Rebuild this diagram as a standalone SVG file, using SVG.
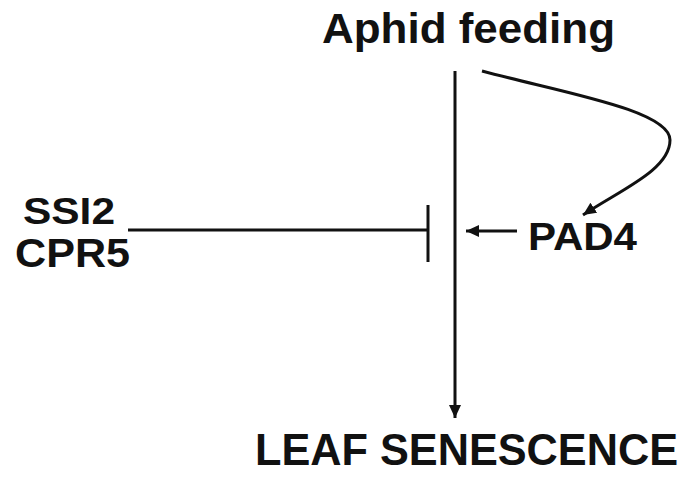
<svg xmlns="http://www.w3.org/2000/svg" width="688" height="477" viewBox="0 0 688 477">
<style>
text{font-family:"Liberation Sans",Arial,sans-serif;font-weight:bold;fill:#111}
.ln{stroke:#111;stroke-width:3;fill:none}
</style>
<defs>
<marker id="ah" markerUnits="userSpaceOnUse" markerWidth="14" markerHeight="12" refX="13" refY="6" orient="auto">
<path d="M0,0 L13,6 L0,12 z" fill="#111"/>
</marker>
</defs>
<rect width="688" height="477" fill="#fff"/>
<g id="aphid"><text x="322" y="43" font-size="43" textLength="293" lengthAdjust="spacingAndGlyphs">Aphid feeding</text></g>
<g id="leaf"><text x="255" y="465" font-size="44" textLength="423" lengthAdjust="spacingAndGlyphs">LEAF SENESCENCE</text></g>
<g id="ssi2"><text x="23" y="224" font-size="36" textLength="92" lengthAdjust="spacingAndGlyphs">SSI2</text></g>
<g id="cpr5"><text x="15" y="267" font-size="40" textLength="115" lengthAdjust="spacingAndGlyphs">CPR5</text></g>
<g id="pad4"><text x="528" y="250" font-size="38" textLength="109" lengthAdjust="spacingAndGlyphs">PAD4</text></g>
<g id="connectors">
<line class="ln" x1="455" y1="71" x2="455" y2="418" marker-end="url(#ah)"/>
<path class="ln" d="M482,71 C560,92 670,110 670,140 C670,170 620,190 583,215" marker-end="url(#ah)"/>
<line class="ln" x1="517" y1="231" x2="466" y2="231" marker-end="url(#ah)"/>
<line class="ln" x1="128" y1="230" x2="428" y2="230"/>
<line class="ln" x1="428" y1="205" x2="428" y2="262"/>
</g>
</svg>
